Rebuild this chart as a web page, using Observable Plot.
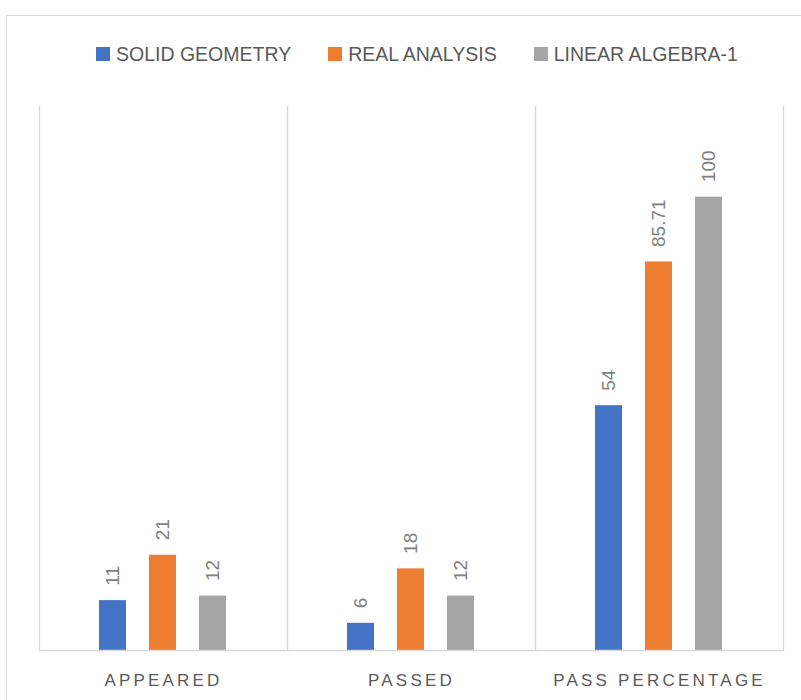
<!DOCTYPE html>
<html>
<head>
<meta charset="utf-8">
<script src="https://cdn.jsdelivr.net/npm/d3@7"></script>
<script src="https://cdn.jsdelivr.net/npm/@observablehq/plot@0.6"></script>
<style>
  html, body { margin: 0; padding: 0; overflow: hidden; background: #fff; width: 801px; height: 700px; }
  #frame { position: absolute; left: 6px; top: 15px; width: 1000px; height: 1000px; border: 1px solid #d9d9d9; box-sizing: border-box; }
  #legend { position: absolute; left: 96px; top: 44px; height: 20px; display: flex; align-items: center;
            font-family: "Liberation Sans", Arial, sans-serif; font-size: 19.5px; color: #595959; white-space: nowrap; }
  #legend .item { display: flex; align-items: center; margin-right: 37px; }
  #legend .sw { width: 14px; height: 14px; margin-right: 6px; }
  #chart { position: absolute; left: 0; top: 90px; }
  #chart [aria-label="fx-axis tick label"] text { letter-spacing: 3.2px; }
</style>
</head>
<body>
<div id="frame"></div>
<div id="legend"></div>
<div id="chart"></div>
<script>
const categories = ["APPEARED", "PASSED", "PASS PERCENTAGE"];
const seriesNames = ["SOLID GEOMETRY", "REAL ANALYSIS", "LINEAR ALGEBRA-1"];
const seriesColors = ["#4472c4", "#ed7d31", "#a5a5a5"];
const solidGeometry = [11, 6, 54];
const realAnalysis = [21, 18, 85.71];
const linearAlgebra = [12, 12, 100];

const seriesValues = [solidGeometry, realAnalysis, linearAlgebra];
const data = [];
categories.forEach((c, i) => {
  seriesNames.forEach((s, j) => {
    data.push({category: c, series: s, value: seriesValues[j][i]});
  });
});

// legend
const legend = document.getElementById("legend");
seriesNames.forEach((s, j) => {
  const item = document.createElement("div");
  item.className = "item";
  const sw = document.createElement("div");
  sw.className = "sw";
  sw.style.background = seriesColors[j];
  const label = document.createElement("span");
  label.textContent = s;
  item.appendChild(sw);
  item.appendChild(label);
  legend.appendChild(item);
});

const chart = Plot.plot({
  width: 801,
  height: 610,
  marginLeft: 38,
  marginRight: 17,
  marginTop: 16,
  marginBottom: 50,
  style: {fontFamily: "'Liberation Sans', Arial, sans-serif", background: "transparent"},
  fx: {domain: categories, padding: 0},
  x: {domain: seriesNames, paddingInner: 0.47, paddingOuter: 1.173, align: 0.49, axis: null},
  y: {domain: [0, 120], axis: null},
  color: {domain: seriesNames, range: seriesColors},
  marks: [
    Plot.frame({anchor: "left", stroke: "#d9d9d9", strokeWidth: 1.3}),
    Plot.frame({anchor: "right", stroke: "#d9d9d9", strokeWidth: 1.3}),
    Plot.barY(data, {fx: "category", x: "series", y: "value", fill: "series"}),
    Plot.ruleY([0], {stroke: "#d9d9d9", strokeWidth: 1.5}),
    Plot.text(data, {
      fx: "category", x: "series", y: "value",
      text: d => String(d.value),
      rotate: -90, textAnchor: "start", dy: -15,
      fontSize: 19, fill: "#7f7f7f"
    }),
    Plot.axisFx({anchor: "bottom", tickSize: 0, tickPadding: 23, fontSize: 17, fill: "#595959", label: null})
  ]
});
document.getElementById("chart").appendChild(chart);
</script>
</body>
</html>
